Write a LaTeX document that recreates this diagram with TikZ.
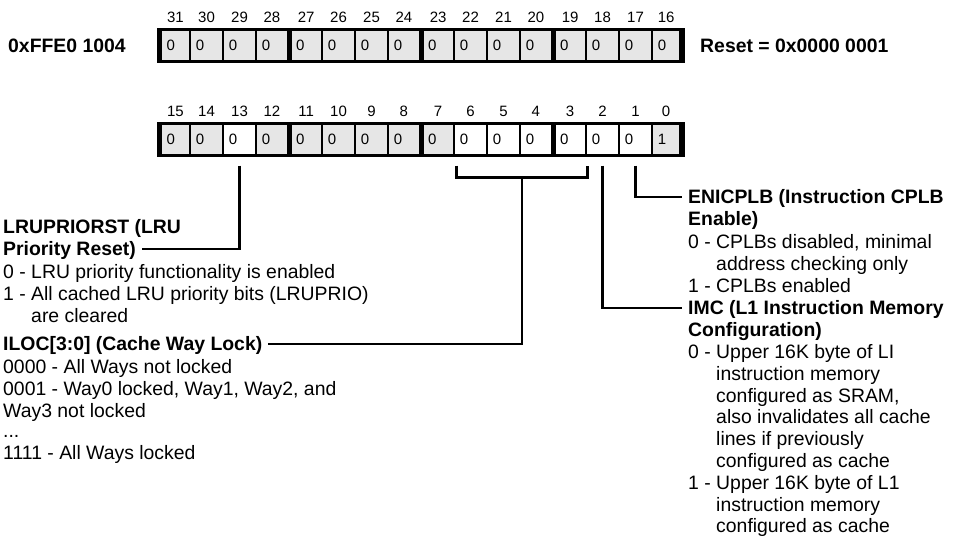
\documentclass[tikz,border=0pt]{standalone}
\usepackage{fontspec}
\setmainfont{Liberation Sans}
\usetikzlibrary{calc}
\definecolor{cellgrey}{HTML}{E6E6E6}
\begin{document}
\begin{tikzpicture}[x=1pt,y=-1pt,
  cell/.style={rectangle, draw=none, minimum height=29pt, inner sep=0pt},
  val/.style={anchor=west, inner sep=0pt, font=\fontsize{15pt}{17pt}\selectfont},
  bitnum/.style={inner sep=0pt, font=\fontsize{15pt}{17pt}\selectfont},
  txt/.style={anchor=west, inner sep=0pt, text height=13.8pt, text depth=0pt, font=\fontsize{19.4pt}{22pt}\selectfont},
  hdr/.style={txt, font=\fontsize{19.4pt}{22pt}\selectfont\bfseries},
  conn/.style={line width=2.7pt, line cap=butt, line join=miter}]
\useasboundingbox (0,0) rectangle (955,536);
% register frames
\fill[black] (157,28) rectangle (685,63);
\fill[black] (157,121.5) rectangle (685,156.5);
% top register
\foreach \b in {31,...,16} {
  \pgfmathtruncatemacro{\i}{31-\b}
  \pgfmathsetmacro{\xl}{157+33*\i+(\i==0 ? 5 : (mod(\i,4)==0 ? 2.5 : 1.25))}
  \pgfmathsetmacro{\xr}{157+33*(\i+1)-(\i==15 ? 6 : (mod(\i+1,4)==0 ? 2.5 : 1.25))}
  \pgfmathsetmacro{\w}{\xr-\xl}
  \node[cell, fill=cellgrey, minimum width=\w pt] (t\b) at ({(\xl+\xr)/2},45.5) {};
  \node[val] (tv\b) at ([xshift=4.5pt]t\b.west) {0};
  \node[bitnum] (tn\b) at ({(\xl+\xr)/2},17.5) {\b};
}
% bottom register
\foreach \b/\f/\v in {15/cellgrey/0,14/cellgrey/0,13/white/0,12/cellgrey/0,11/cellgrey/0,10/cellgrey/0,9/cellgrey/0,8/cellgrey/0,7/cellgrey/0,6/white/0,5/white/0,4/white/0,3/white/0,2/white/0,1/white/0,0/cellgrey/1} {
  \pgfmathtruncatemacro{\i}{15-\b}
  \pgfmathsetmacro{\xl}{157+33*\i+(\i==0 ? 5 : (mod(\i,4)==0 ? 2.5 : 1.25))}
  \pgfmathsetmacro{\xr}{157+33*(\i+1)-(\i==15 ? 6 : (mod(\i+1,4)==0 ? 2.5 : 1.25))}
  \pgfmathsetmacro{\w}{\xr-\xl}
  \node[cell, fill=\f, minimum width=\w pt] (b\b) at ({(\xl+\xr)/2},139) {};
  \node[val] (bv\b) at ([xshift=4.5pt]b\b.west) {\v};
  \node[bitnum] (bn\b) at ({(\xl+\xr)/2},111.5) {\b};
}
% headers
\node[hdr] (addr) at (8,45.5) {0xFFE0 1004};
\node[hdr] (reset) at (700,45.5) {Reset = 0x0000 0001};
% left column
\node[hdr] (lru1) at (3,227) {LRUPRIORST (LRU};
\node[hdr] (lru2) at (3,249) {Priority Reset)};
\node[txt] (lru3) at (3,272) {0 - LRU priority functionality is enabled};
\node[txt] (lru4) at (3,294) {1 - All cached LRU priority bits (LRUPRIO)};
\node[txt] (lru5) at (3,316) {\phantom{1 - }are cleared};
\node[hdr] (iloc1) at (3,344) {ILOC[3:0] (Cache Way Lock)};
\node[txt] (iloc2) at (3,367) {0000 - All Ways not locked};
\node[txt] (iloc3) at (3,389) {0001 - Way0 locked, Way1, Way2, and};
\node[txt] (iloc4) at (3,411) {Way3 not locked};
\node[txt] (iloc5) at (3,431) {...};
\node[txt] (iloc6) at (3,453) {1111 - All Ways locked};
% right column
\node[hdr] (en1) at (688,197) {ENICPLB (Instruction CPLB};
\node[hdr] (en2) at (688,219) {Enable)};
\node[txt] (en3) at (688,241.5) {0 - CPLBs disabled, minimal};
\node[txt] (en4) at (688,263.5) {\phantom{0 - }address checking only};
\node[txt] (en5) at (688,285.5) {1 - CPLBs enabled};
\node[hdr] (imc1) at (688,308) {IMC (L1 Instruction Memory};
\node[hdr] (imc2) at (688,329.5) {Configuration)};
\node[txt] (imc3) at (688,351.5) {0 - Upper 16K byte of LI};
\node[txt] (imc4) at (688,373.3) {\phantom{0 - }instruction memory};
\node[txt] (imc5) at (688,395.1) {\phantom{0 - }configured as SRAM,};
\node[txt] (imc6) at (688,416.9) {\phantom{0 - }also invalidates all cache};
\node[txt] (imc7) at (688,438.7) {\phantom{0 - }lines if previously};
\node[txt] (imc8) at (688,460.5) {\phantom{0 - }configured as cache};
\node[txt] (imc9) at (688,482.3) {1 - Upper 16K byte of L1};
\node[txt] (imc10) at (688,504.1) {\phantom{1 - }instruction memory};
\node[txt] (imc11) at (688,525.5) {\phantom{1 - }configured as cache};
% connectors
\draw[conn] ([yshift=-12pt]b13.south) |- ([xshift=6pt]lru2.east);
\coordinate (brl) at ([xshift=1.5pt,yshift=-12pt]b6.south west);
\coordinate (brr) at ([xshift=2.5pt,yshift=-12pt]b3.south east);
\draw[conn] (brl) -- ++(0,12) -| (brr);
\coordinate (brm) at ($(brl)!0.5!(brr)+(0,12)$);
\draw[conn] (brm) |- ([xshift=6pt]iloc1.east);
\draw[conn] ([yshift=-12pt]b2.south) |- ([xshift=-6pt]imc1.west);
\draw[conn] ([yshift=-12pt]b1.south) |- ([xshift=-6pt]en1.west);
\end{tikzpicture}
\end{document}
